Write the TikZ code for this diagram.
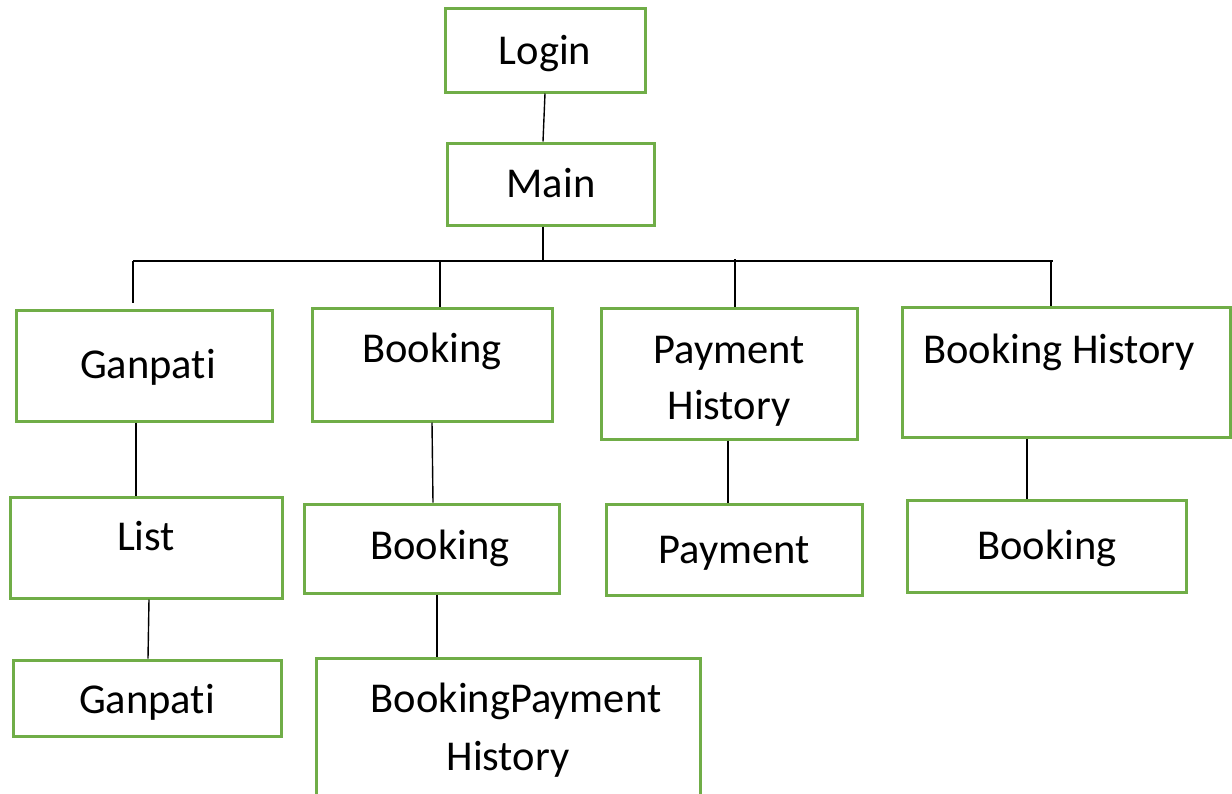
\documentclass[tikz,border=0pt]{standalone}
\usepackage{fontspec}
\setmainfont{Carlito}[Ligatures=CommonOff]
\usetikzlibrary{calc}
\definecolor{boxgreen}{HTML}{70AD47}
\begin{document}
\begin{tikzpicture}[x=1pt,y=-1pt,
  box/.style={draw=boxgreen,line width=3pt,inner sep=0pt,fill=white},
  lbl/.style={anchor=base,inner sep=0pt,font=\fontsize{42.5}{50}\selectfont},
  conn/.style={draw=black,line width=1.4pt}]
\useasboundingbox (0,0) rectangle (1232,793);
\fill[white] (0,0) rectangle (1232,793);
% boxes
\node[box,minimum width=200pt,minimum height=84pt] (login) at (545,50) {};
\node[box,minimum width=207pt,minimum height=82pt] (main) at (550.5,184) {};
\node[box,minimum width=256pt,minimum height=111pt] (gan1) at (144,365.5) {};
\node[box,minimum width=240pt,minimum height=113pt] (book1) at (432,364.5) {};
\node[box,minimum width=256pt,minimum height=131pt] (pay1) at (729,373.5) {};
\node[box,minimum width=328pt,minimum height=130pt] (bh) at (1066,372) {};
\node[box,minimum width=272pt,minimum height=101pt] (list) at (146,547.5) {};
\node[box,minimum width=268pt,minimum height=76pt] (gan2) at (147,698) {};
\node[box,minimum width=255pt,minimum height=89pt] (book2) at (431.5,548.5) {};
\node[box,minimum width=384pt,minimum height=142pt] (bph) at (508,729) {};
\node[box,minimum width=256pt,minimum height=91pt] (pay2) at (734,549.5) {};
\node[box,minimum width=279pt,minimum height=92pt] (book3) at (1046.5,546) {};
% texts
\node[lbl] (tlogin) at (545,64) {Login};
\node[lbl] (tmain) at (551,197) {Main};
\node[lbl] (tgan1) at (148,378) {Ganpati};
\node[lbl] (tbook1) at (432,362) {Booking};
\node[lbl] (tpay1a) at (729,363) {Payment};
\node[lbl] (tpay1b) at (729,419) {History};
\node[lbl] (tbh) at (1059,363) {Booking History};
\node[lbl] (tlist) at (146,550) {List};
\node[lbl] (tgan2) at (147,713) {Ganpati};
\node[lbl] (tbook2) at (440,559) {Booking};
\node[lbl] (tbpha) at (516,712) {BookingPayment};
\node[lbl] (tbphb) at (508,770) {History};
\node[lbl] (tpay2) at (734,563) {Payment};
\node[lbl] (tbook3) at (1047,559) {Booking};
% bus coordinates
\coordinate (busL) at (133,261);
\coordinate (busR) at (1053,261);
\coordinate (busM) at (543,261);
\coordinate (b2) at (440,261);
\coordinate (b3) at (735,259);
\coordinate (b4) at (1051,261);
% connectors
\draw[conn] (login.south -| 545,0) -- (main.north -| 543,0);
\draw[conn] (main.south -| busM) -- (busM);
\draw[conn] (busL) -- (busR);
\draw[conn] (busL) -- ($(gan1.north -| busL)+(0,-6)$);
\draw[conn] (b2) -- (book1.north -| b2);
\draw[conn] (b3) -- (pay1.north -| b3);
\draw[conn] (b4) -- (bh.north -| b4);
\draw[conn] (gan1.south -| 136,0) -- (list.north -| 136,0);
\draw[conn] (list.south -| 149,0) -- (gan2.north -| 148,0);
\draw[conn] (book1.south -| 432,0) -- (book2.north -| 433,0);
\draw[conn] (book2.south -| 437,0) -- (bph.north -| 437,0);
\draw[conn] (pay1.south -| 728,0) -- (pay2.north -| 728,0);
\draw[conn] (bh.south -| 1027,0) -- (book3.north -| 1027,0);
\end{tikzpicture}
\end{document}
